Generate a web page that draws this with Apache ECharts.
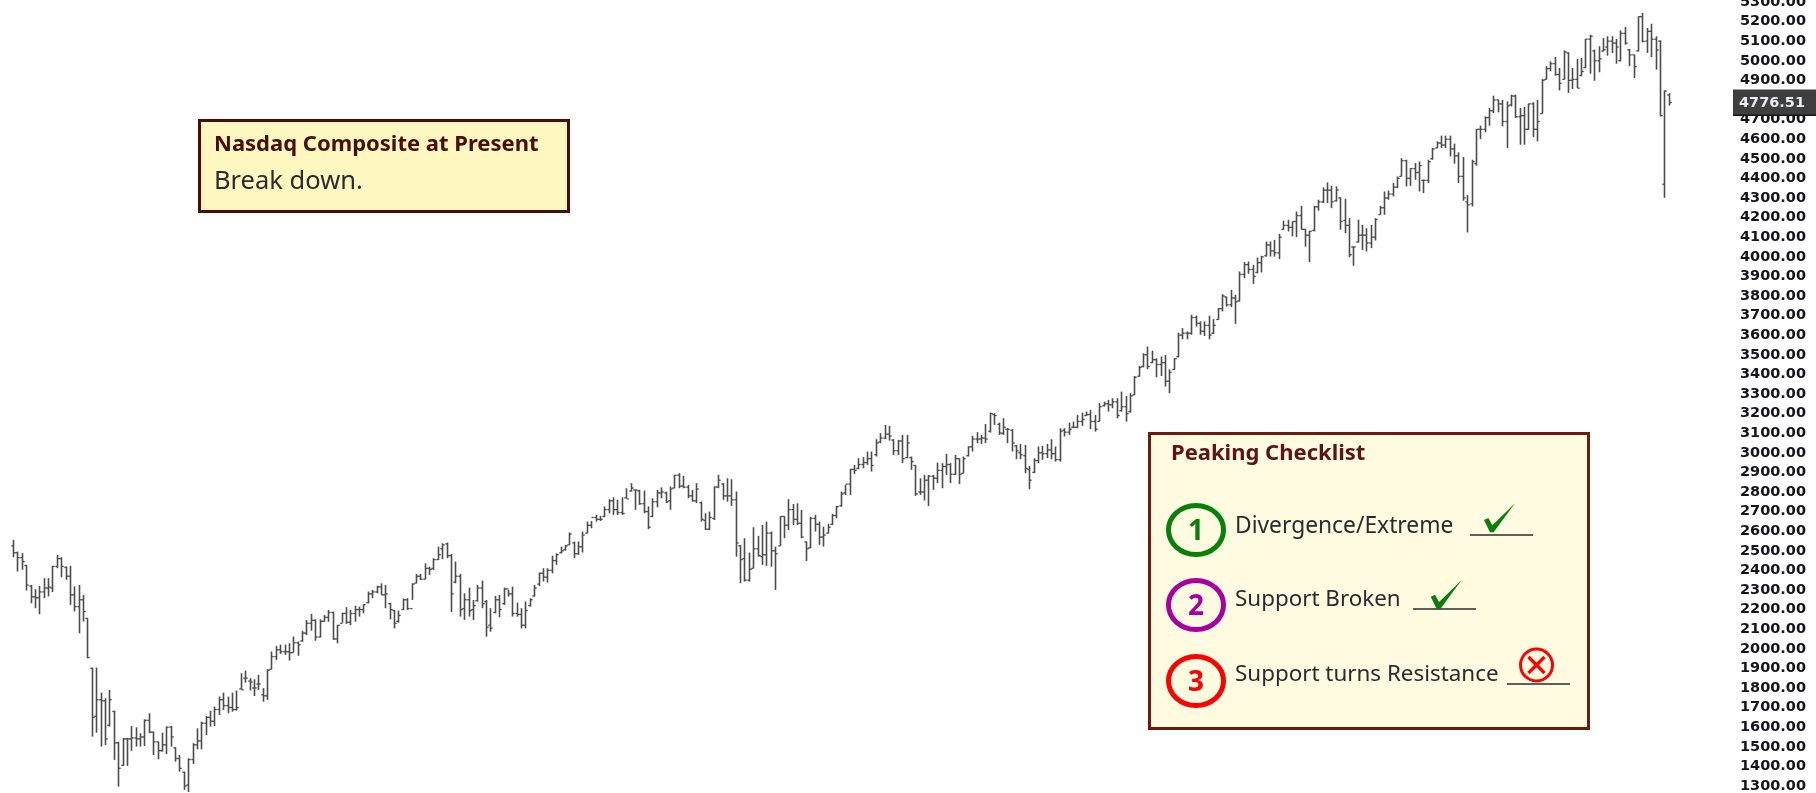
<!DOCTYPE html>
<html><head><meta charset="utf-8">
<style>html,body{margin:0;padding:0;background:#fff}#c{width:1816px;height:793px}</style>
<script src="https://cdn.jsdelivr.net/npm/echarts@6/dist/echarts.min.js"></script>
</head><body><div id="c"></div>
<script>
const yMin=1300, yMax=5300, yStep=100;
const lastPrice=4776.51;
const highs=[
2546,2486,2478,2418,2316,2294,2311,2350,2350,2413,
2469,2457,2410,2413,2308,2316,2265,2146,1894,1894,
1766,1737,1780,1674,1516,1535,1535,1596,1589,1559,
1630,1661,1567,1516,1562,1593,1596,1487,1448,1363,
1431,1508,1584,1618,1647,1674,1695,1746,1766,1746,
1766,1777,1865,1879,1840,1834,1857,1789,1886,1976,
2005,2011,2011,2018,2052,2027,2082,2137,2168,2140,
2140,2162,2188,2180,2111,2174,2202,2188,2210,2205,
2217,2282,2290,2312,2324,2316,2225,2188,2185,2246,
2248,2324,2372,2372,2426,2409,2452,2511,2528,2532,
2474,2435,2372,2273,2302,2239,2316,2338,2239,2197,
2259,2265,2302,2290,2307,2225,2197,2231,2248,2316,
2379,2401,2401,2465,2477,2511,2520,2583,2537,2537,
2588,2639,2642,2673,2668,2716,2753,2763,2750,2763,
2809,2835,2801,2801,2797,2716,2758,2801,2813,2792,
2818,2877,2886,2872,2826,2801,2835,2741,2681,2690,
2818,2877,2835,2860,2855,2792,2520,2554,2481,2610,
2566,2622,2639,2588,2511,2665,2665,2753,2729,2732,
2698,2537,2664,2673,2639,2613,2627,2678,2719,2792,
2826,2908,2928,2962,2967,2996,2996,3059,3090,3132,
3127,3059,3056,3081,3081,2971,2928,2860,2877,2877,
2877,2940,2937,2984,2937,2979,2962,2971,3022,3076,
3095,3081,3137,3195,3192,3144,3166,3115,3110,3030,
3035,3030,2923,2962,3022,3025,3035,3059,3022,3115,
3115,3144,3149,3183,3195,3200,3209,3183,3243,3251,
3260,3268,3268,3302,3280,3294,3382,3433,3498,3532,
3511,3472,3481,3489,3416,3472,3603,3626,3609,3694,
3690,3660,3660,3689,3672,3728,3799,3787,3821,3796,
3915,3963,3966,3949,3986,3995,4068,4068,4076,4107,
4174,4179,4170,4221,4250,4131,4122,4250,4281,4344,
4369,4352,4349,4293,4286,4187,4042,4179,4153,4136,
4153,4187,4250,4323,4328,4366,4400,4493,4485,4442,
4468,4476,4383,4485,4545,4579,4608,4608,4608,4567,
4523,4499,4306,4485,4642,4659,4706,4749,4812,4791,
4791,4783,4817,4817,4749,4754,4771,4778,4791,4897,
4962,4987,5009,4953,5043,5033,4953,4999,5004,5101,
5123,5047,5064,5106,5115,5115,5101,5145,5162,5050,
5021,5217,5234,5157,5179,5115,5094,4839,4825];
const lows=[
2457,2384,2393,2287,2222,2197,2166,2248,2257,2279,
2401,2355,2342,2214,2180,2069,2129,1942,1542,1562,
1491,1499,1593,1423,1287,1392,1392,1470,1491,1491,
1494,1559,1448,1426,1465,1453,1491,1414,1363,1270,
1259,1402,1477,1477,1550,1593,1596,1652,1678,1661,
1669,1674,1783,1817,1777,1749,1780,1720,1729,1886,
1933,1964,1959,1930,1971,1954,2026,2060,2082,2031,
2048,2128,2128,2035,2018,2123,2117,2111,2128,2154,
2171,2222,2248,2273,2265,2197,2140,2094,2123,2188,
2188,2239,2324,2341,2345,2367,2392,2443,2447,2452,
2178,2324,2154,2137,2154,2137,2231,2197,2052,2077,
2171,2151,2214,2256,2154,2154,2094,2094,2205,2256,
2311,2333,2328,2375,2418,2477,2491,2520,2452,2469,
2481,2579,2605,2639,2642,2661,2681,2673,2673,2673,
2758,2792,2699,2724,2681,2600,2661,2712,2758,2733,
2699,2809,2809,2809,2758,2741,2733,2639,2596,2596,
2647,2809,2750,2741,2719,2460,2324,2333,2333,2401,
2460,2418,2413,2409,2290,2515,2554,2596,2622,2622,
2554,2438,2503,2588,2520,2511,2579,2622,2656,2715,
2775,2775,2882,2906,2911,2928,2894,2971,3039,3059,
3052,2979,2979,2937,2962,2903,2770,2775,2746,2719,
2801,2835,2809,2877,2835,2877,2831,2886,2971,2996,
3039,3035,3039,3093,3132,3081,3081,3039,2996,2957,
2957,2886,2804,2886,2937,2954,2962,2957,2945,2945,
3073,3081,3115,3115,3127,3178,3110,3098,3149,3226,
3200,3217,3166,3200,3149,3195,3285,3379,3426,3416,
3447,3375,3382,3328,3294,3413,3477,3569,3569,3592,
3634,3592,3586,3569,3595,3668,3711,3736,3733,3648,
3762,3881,3903,3852,3906,3910,3991,3991,3991,3978,
4128,4119,4094,4090,4128,4042,3963,4119,4225,4264,
4264,4238,4272,4128,4111,3988,3944,4063,4025,4017,
4034,4073,4204,4204,4281,4298,4340,4400,4349,4352,
4383,4323,4315,4366,4485,4545,4545,4545,4502,4465,
4366,4276,4114,4247,4455,4591,4625,4659,4723,4727,
4655,4545,4757,4698,4562,4562,4638,4601,4579,4720,
4894,4936,4914,4839,4894,4826,4846,4851,4911,4953,
4924,4888,4931,5038,5016,5030,4975,4987,5072,4962,
4902,5038,5084,5030,5009,4945,4706,4291,4761];
const closes=[
2480,2455,2435,2315,2255,2250,2280,2300,2305,2410,
2450,2410,2360,2265,2205,2240,2180,1945,1640,1730,
1725,1530,1730,1510,1380,1530,1530,1535,1530,1540,
1625,1565,1515,1470,1500,1590,1540,1430,1380,1290,
1425,1500,1520,1610,1640,1620,1680,1730,1700,1690,
1680,1690,1780,1840,1820,1790,1810,1750,1880,1950,
1985,1975,1975,1970,2020,2010,2070,2120,2135,2050,
2130,2150,2175,2040,2110,2170,2125,2170,2190,2190,
2215,2270,2280,2305,2265,2270,2190,2120,2160,2240,
2195,2320,2360,2345,2400,2395,2445,2470,2520,2465,
2270,2360,2190,2240,2185,2210,2300,2220,2100,2095,
2240,2190,2295,2270,2170,2165,2110,2185,2240,2300,
2375,2355,2390,2440,2470,2490,2515,2575,2475,2510,
2570,2620,2660,2650,2650,2700,2745,2700,2685,2680,
2755,2810,2800,2730,2690,2610,2740,2785,2790,2740,
2805,2875,2820,2815,2770,2745,2805,2650,2600,2660,
2815,2850,2770,2770,2750,2530,2445,2340,2395,2500,
2465,2470,2580,2490,2475,2665,2620,2700,2650,2630,
2560,2500,2655,2625,2560,2570,2610,2670,2715,2780,
2830,2905,2900,2930,2940,2960,2925,3040,3065,3085,
3075,3000,3050,2960,3040,2945,2780,2790,2850,2870,
2860,2900,2920,2930,2880,2960,2880,2960,3020,3060,
3060,3065,3060,3190,3180,3090,3120,3110,3040,3000,
2980,2910,2850,2950,2990,2985,3005,2985,2955,3100,
3095,3110,3120,3150,3160,3185,3150,3110,3225,3240,
3235,3250,3180,3225,3190,3280,3375,3425,3490,3430,
3465,3440,3450,3355,3400,3470,3590,3600,3600,3680,
3650,3610,3640,3590,3640,3725,3790,3745,3780,3760,
3900,3950,3925,3890,3960,3990,4050,4020,4010,4090,
4150,4140,4170,4200,4130,4100,4120,4245,4270,4330,
4330,4270,4330,4170,4150,4000,4040,4100,4100,4060,
4090,4180,4240,4290,4310,4345,4390,4480,4390,4440,
4420,4455,4380,4475,4540,4570,4560,4590,4540,4505,
4400,4290,4255,4475,4640,4640,4700,4735,4790,4770,
4680,4760,4810,4705,4710,4640,4770,4640,4680,4890,
4950,4975,4920,4875,5035,4890,4895,4850,4935,5100,
5115,4990,5000,5047,5090,5080,5060,5130,5080,5020,
4960,5215,5089,5140,5100,5045,4710,4835,lastPrice];
const opens=[
2515,2480,2455,2415,2310,2255,2250,2280,2300,2300,
2410,2450,2405,2360,2265,2205,2240,2145,1890,1645,
1730,1725,1600,1670,1510,1395,1530,1530,1535,1530,
1540,1625,1565,1515,1470,1500,1590,1485,1430,1360,
1295,1425,1500,1520,1610,1640,1620,1680,1730,1700,
1690,1680,1785,1840,1825,1790,1810,1755,1750,1885,
1950,1985,1975,1975,1970,2020,2030,2070,2120,2135,
2050,2130,2150,2175,2040,2120,2170,2125,2170,2190,
2190,2225,2270,2280,2305,2265,2220,2185,2130,2190,
2240,2195,2325,2360,2345,2400,2400,2445,2500,2525,
2465,2330,2360,2195,2240,2190,2235,2300,2230,2110,
2175,2240,2220,2295,2270,2170,2165,2110,2210,2260,
2320,2375,2355,2390,2440,2480,2495,2520,2530,2475,
2510,2580,2620,2660,2650,2665,2700,2745,2700,2685,
2760,2795,2800,2795,2730,2690,2665,2740,2785,2785,
2745,2810,2875,2820,2815,2770,2745,2735,2645,2600,
2655,2815,2830,2770,2770,2750,2515,2450,2340,2400,
2500,2460,2470,2580,2490,2515,2665,2620,2700,2650,
2630,2535,2505,2655,2625,2560,2580,2625,2670,2720,
2785,2830,2905,2910,2930,2940,2960,2980,3045,3065,
3085,3055,3000,3050,2965,2965,2925,2790,2790,2850,
2870,2860,2900,2920,2930,2880,2960,2885,2975,3020,
3060,3060,3065,3100,3185,3135,3090,3110,3105,3025,
2990,2975,2905,2890,2950,2990,2985,3005,2985,2955,
3105,3095,3120,3120,3150,3180,3185,3150,3150,3230,
3240,3235,3250,3205,3225,3200,3285,3380,3430,3490,
3450,3465,3440,3450,3355,3415,3480,3590,3600,3600,
3680,3650,3610,3640,3600,3670,3725,3785,3745,3780,
3765,3900,3950,3925,3910,3960,3995,4050,4020,4010,
4130,4150,4140,4170,4200,4130,4100,4125,4245,4270,
4330,4330,4275,4290,4175,4150,4040,4065,4100,4100,
4060,4090,4205,4240,4290,4310,4345,4400,4480,4390,
4440,4420,4380,4380,4490,4545,4570,4560,4590,4540,
4505,4400,4270,4260,4465,4640,4640,4700,4735,4790,
4770,4680,4765,4810,4705,4710,4640,4770,4640,4720,
4895,4950,4975,4920,4895,5030,4890,4895,4915,4955,
5100,5040,4990,5040,5060,5090,5080,4990,5130,5045,
5020,5040,5215,5090,5140,5100,5090,4360,4815];

const barData=highs.map((h,i)=>[i,opens[i],closes[i],lows[i],h]);
const uiFont='"Noto Sans"';
const maroon='#4a0d08', brown='#6e1a0e', textDark='#2a2b30';
function txt(x,y,s,size,color,bold,align){
  return {type:'text',z:30,style:{x,y,text:s,fill:color,font:(bold?'bold ':'')+size+'px '+uiFont,textAlign:align||'left',textVerticalAlign:'middle',verticalAlign:'middle'}};
}
function circle(cx,cy,color,n){
  return [{type:'ellipse',z:30,shape:{cx,cy,rx:27.5,ry:24.5},style:{fill:'none',stroke:color,lineWidth:5}},
          txt(cx,cy+2,n,28,color,true,'center')];
}
function line(x1,x2,y){return {type:'line',z:30,shape:{x1,y1:y,x2,y2:y},style:{stroke:'#2a2a2a',lineWidth:1.4}};}
function check(dx,dy){
  const p=[[222,120],[235,114],[247,136],[315,70],[251,157],[240,157]];
  return {type:'polygon',z:31,shape:{points:p.map(q=>[1410+q[0]/3+dx,480+q[1]/3+dy])},style:{fill:'#0a800a'}};
}
const graphics=[
 {type:'rect',z:29,shape:{x:199.5,y:120.5,width:369,height:91},style:{fill:'#fef7bf',stroke:maroon,lineWidth:3}},
 txt(214,145,'Nasdaq Composite at Present',22,maroon,true),
 txt(214,182,'Break down.',25.5,textDark,false),
 {type:'rect',z:29,shape:{x:1149.5,y:433.5,width:439,height:295},style:{fill:'#fefbe0',stroke:brown,lineWidth:3}},
 txt(1171,454,'Peaking Checklist',22,'#5e1510',true),
 ...circle(1196,530,'#078007','1'),
 ...circle(1196,605,'#a8009e','2'),
 ...circle(1196,681,'#ff0000','3'),
 txt(1235,527,'Divergence/Extreme',22.8,textDark,false),
 txt(1235,600,'Support Broken',22.4,textDark,false),
 txt(1235,675,'Support turns Resistance',22.4,textDark,false),
 line(1470,1533,535), line(1413,1476,609), line(1507,1570,684),
 check(0,0), check(-53.3,76.7),
 {type:'circle',z:31,shape:{cx:1536.5,cy:665,r:16},style:{fill:'none',stroke:'#ff0000',lineWidth:3}},
 {type:'line',z:31,shape:{x1:1528.5,y1:657,x2:1544.5,y2:673},style:{stroke:'#ff0000',lineWidth:3.2}},
 {type:'line',z:31,shape:{x1:1544.5,y1:657,x2:1528.5,y2:673},style:{stroke:'#ff0000',lineWidth:3.2}}
];
const barColor='#4c4c4c';
const chart=echarts.init(document.getElementById('c'),null,{renderer:'canvas'});
chart.setOption({
  animation:false,
  backgroundColor:'#ffffff',
  grid:{left:0,right:76,top:0,bottom:9,outerBoundsMode:'none',containLabel:false},
  xAxis:{type:'value',min:-2.968,max:394.29,show:false},
  yAxis:{type:'value',position:'right',min:yMin,max:yMax,interval:yStep,
    axisLine:{show:false},axisTick:{show:false},splitLine:{show:false},
    axisLabel:{align:'left',verticalAlign:'top',lineHeight:4,margin:0,color:'#14141c',fontFamily:'"DejaVu Sans"',fontWeight:'bold',fontSize:14.5,
      showMinLabel:true,showMaxLabel:true,hideOverlap:false,formatter:v=>v.toFixed(2)}},
  series:[
   {type:'custom',name:'Nasdaq Composite',z:5,coordinateSystem:'cartesian2d',encode:{x:0,y:[1,2,3,4]},data:barData,
    renderItem(params,api){
      const i=api.value(0);
      const o=api.coord([i,api.value(1)]),c=api.coord([i,api.value(2)]),
            l=api.coord([i,api.value(3)]),h=api.coord([i,api.value(4)]);
      const x=Math.round(h[0])+0.5;
      return {type:'group',children:[
        {type:'line',shape:{x1:x,y1:h[1],x2:x,y2:l[1]},style:{stroke:barColor,lineWidth:1.6}},
        {type:'line',shape:{x1:x-2.2,y1:o[1],x2:x,y2:o[1]},style:{stroke:barColor,lineWidth:1.3}},
        {type:'line',shape:{x1:x,y1:c[1],x2:x+2.2,y2:c[1]},style:{stroke:barColor,lineWidth:1.3}}
      ]};
    }},
   {type:'custom',name:'Last',z:10,coordinateSystem:'cartesian2d',encode:{x:0,y:1},data:[[0,lastPrice]],
    renderItem(params,api){
      const y=api.coord([0,api.value(1)])[1];
      return {type:'group',children:[
        {type:'rect',shape:{x:1733,y:y-13,width:83,height:25.5},style:{fill:'#3f3f3f'}},
        {type:'rect',shape:{x:1733,y:y+12,width:83,height:1.5},style:{fill:'#151515'}},
        {type:'text',style:{x:1772,y:y+1,text:api.value(1).toFixed(2),fill:'#e8eef2',font:'bold 14.5px "DejaVu Sans"',textAlign:'center',textVerticalAlign:'middle',verticalAlign:'middle'}}
      ]};
    }}
  ],
  graphic:graphics
});
</script></body></html>
